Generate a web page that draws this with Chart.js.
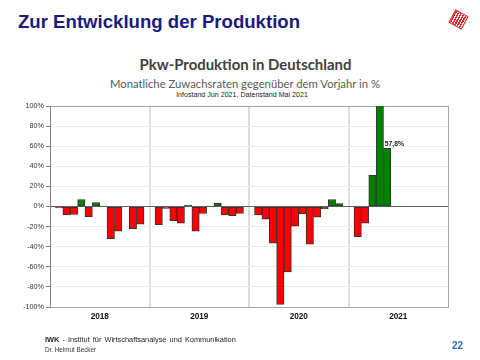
<!DOCTYPE html>
<html>
<head>
<meta charset="utf-8">
<script src="https://cdn.jsdelivr.net/npm/chart.js@4"></script>
<style>
  html, body { margin: 0; padding: 0; background: #fff; }
  #page { position: relative; width: 480px; height: 360px; overflow: hidden; font-family: "Liberation Sans", Arial, sans-serif; }
  #page div.t { position: absolute; white-space: nowrap; line-height: 1; }
  #head { left: 18px; top: 12.5px; font-size: 18.6px; font-weight: bold; color: #1a1a7e; }
  #logo { left: 451px; top: 12px; width: 13px; height: 13px; transform: rotate(28deg);
    background: repeating-linear-gradient(90deg, #e4202a 0 1.5px, #fff 1.5px 2.6px); border: 1px solid #e4202a; position: absolute; }
  #ctitle { left: 0; width: 491px; top: 56.5px; text-align: center; font-family: Lato, sans-serif; font-weight: bold; font-size: 14.9px; color: #404040; }
  #csub { left: 0; width: 490px; top: 77.5px; text-align: center; font-family: Lato, sans-serif; font-size: 11.3px; color: #595959; }
  #cinfo { left: 0; width: 484px; top: 91.5px; text-align: center; font-size: 7.1px; color: #222; }
  #foot1 { left: 45px; top: 336px; font-size: 7.4px; color: #222; word-spacing: 1px; }
  #foot2 { left: 45px; top: 347px; font-size: 6.3px; color: #333; }
  #pnum { left: 452px; top: 341px; font-size: 10px; font-weight: bold; color: #2a6ebb; }
  #wrap { position: absolute; left: 0; top: 0; width: 480px; height: 360px; }
</style>
</head>
<body>
<div id="page">
  <div class="t" id="head">Zur Entwicklung der Produktion</div>
  <div id="logo"></div>
  <div class="t" id="ctitle">Pkw-Produktion in Deutschland</div>
  <div class="t" id="csub">Monatliche Zuwachsraten gegenüber dem Vorjahr in %</div>
  <div class="t" id="cinfo">Infostand Jun 2021, Datenstand Mai 2021</div>
  <div id="wrap"><canvas id="chart"></canvas></div>
  <div class="t" id="foot1"><b>IWK</b> - Institut für Wirtschaftsanalyse und Kommunikation</div>
  <div class="t" id="foot2">Dr. Helmut Becker</div>
  <div class="t" id="pnum">22</div>
</div>
<script>
const years = ["2018", "2019", "2020", "2021"];
const yTicks = [-100, -80, -60, -40, -20, 0, 20, 40, 60, 80, 100];

// monthly change vs. previous year, %
const growth2018 = [-1.5, -8.5, -8, 7, -10, 4, 0.5, -32, -24.5, 0, -22, -17.5];
const growth2019 = [-18, -2, -14, -16.5, 1.5, -24.5, -7, 0.3, 3.5, -8.5, -9, -7];
const growth2020 = [-8.5, -12.5, -36.5, -97.5, -65, -19.5, -7.5, -37.5, -10.5, -2.5, 7, 3];
const growth2021 = [-30, -16.5, 31, 170, 57.8];

const series = [growth2018, growth2019, growth2020, growth2021];
const slotsPerYear = 13.5; // 12 months plus spacing between years

const points = [];
series.forEach((vals, yi) => {
  vals.forEach((v, mi) => points.push({ x: yi * slotsPerYear + 1.25 + mi, y: v }));
});

const fmtPct = (v) => v.toFixed(1).replace(".", ",") + "%";

const lastLabel = {
  id: "lastLabel",
  afterDatasetsDraw(chart) {
    const meta = chart.getDatasetMeta(0);
    const i = points.length - 1;
    const bar = meta.data[i];
    const ctx = chart.ctx;
    ctx.save();
    ctx.font = "bold 6.8px 'Liberation Sans', Arial, sans-serif";
    ctx.fillStyle = "#222";
    ctx.textAlign = "left";
    ctx.textBaseline = "bottom";
    ctx.fillText(fmtPct(points[i].y), bar.x - bar.width / 2 + 1.2, bar.y - 1);
    ctx.restore();
  },
};

const tickFont = { family: "'Liberation Sans', Arial, sans-serif", size: 7.2 };

new Chart(document.getElementById("chart"), {
  type: "bar",
  data: {
    datasets: [
      {
        data: points,
        backgroundColor: (c) => (c.raw && c.raw.y < 0 ? "#ff0000" : "#008000"),
        borderColor: "#333333",
        borderWidth: 1,
        borderSkipped: false,
        categoryPercentage: 1,
        barPercentage: 1,
        clip: 0,
      },
    ],
  },
  options: {
    responsive: true,
    maintainAspectRatio: false,
    animation: false,
    layout: { padding: { top: 106, right: 32, bottom: 0, left: 0 } },
    plugins: { legend: { display: false }, tooltip: { enabled: false } },
    scales: {
      x: {
        type: "linear",
        min: 0,
        max: years.length * slotsPerYear,
        offset: false,
        afterBuildTicks: (s) => {
          s.ticks = years.map((_, i) => ({ value: i * slotsPerYear + slotsPerYear / 2 }));
        },
        afterFit: (s) => { s.height = 53; },
        ticks: {
          autoSkip: false,
          maxRotation: 0,
          padding: 5,
          color: "#111",
          font: { family: tickFont.family, size: 8.2, weight: "bold" },
          callback: (v, i) => years[i],
        },
        grid: {
          offset: true,
          drawTicks: false,
          color: (c) => (c.index === 0 ? "rgba(0,0,0,0)" : c.type === "tick" ? "#dcdcdc" : "#a6a6a6"),
          lineWidth: (c) => (c.type === "tick" ? 2 : 1),
        },
        border: { color: "#a6a6a6", width: 1 },
      },
      y: {
        min: -100,
        max: 100,
        afterBuildTicks: (s) => { s.ticks = yTicks.map((v) => ({ value: v })); },
        afterFit: (s) => { s.width = 50; },
        ticks: { color: "#333", font: tickFont, padding: 2, callback: (v) => v + "%" },
        grid: {
          tickLength: 4,
          tickColor: "#808080",
          color: (c) => (c.tick.value === 0 ? "#606060" : c.tick.value === 100 ? "#a6a6a6" : "#eeeeee"),
        },
        border: { color: "#808080", width: 1 },
      },
    },
  },
  plugins: [lastLabel],
});
</script>
</body>
</html>
